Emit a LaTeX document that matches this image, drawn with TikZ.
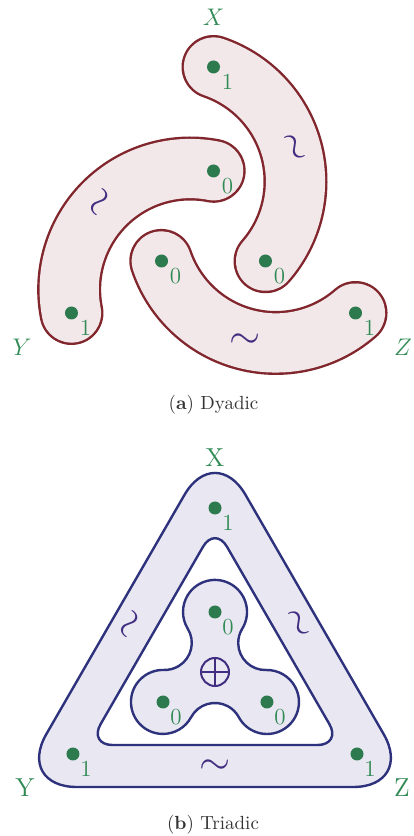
\documentclass[tikz,border=0pt]{standalone}
\usepackage{tikz}
\usetikzlibrary{calc, positioning}
\definecolor{dyadline}{RGB}{128,38,44}
\definecolor{dyadfill}{RGB}{242,232,234}
\definecolor{triline}{RGB}{46,50,124}
\definecolor{trifill}{RGB}{233,232,242}
\definecolor{dotgreen}{RGB}{44,122,78}
\definecolor{labgreen}{RGB}{48,138,84}
\definecolor{tildecol}{RGB}{66,46,128}
\definecolor{capgray}{RGB}{51,51,51}
\tikzset{
  dyadband/.style={draw=dyadline, line width=1.2pt, double=dyadfill, double distance=29.6pt, line cap=round},
  triband/.style={draw=triline, line width=1.2pt, fill=trifill, even odd rule},
  dot/.style={circle, fill=dotgreen, inner sep=0pt, minimum size=6.5pt},
  digit/.style={text=labgreen, font=\fontsize{11.5}{12}\selectfont, inner sep=0pt},
  party/.style={text=labgreen, font=\fontsize{13}{14}\selectfont},
  wiggle/.style={text=tildecol, inner sep=0pt},
  caption/.style={text=capgray, font=\fontsize{9.5}{11}\selectfont}
}
\newcommand{\twiddle}{\scalebox{2}{$\sim$}}
\begin{document}
\begin{tikzpicture}[x=0.5pt, y=0.5pt]
    \useasboundingbox (0,0) rectangle (413,836);

    % --- (a) Dyadic ---
    \begin{scope}[shift={(213.5,605)}]
        \draw[dyadband] (90:164) arc[start angle=71.2, end angle=-41.2, radius=121];
        \draw[dyadband] (210:164) arc[start angle=191.2, end angle=78.8, radius=121];
        \draw[dyadband] (330:164) arc[start angle=311.2, end angle=198.8, radius=121];

        \node[dot] (ax1) at (90:164) {};
        \node[dot] (ay1) at (210:164) {};
        \node[dot] (az1) at (330:164) {};
        \node[dot] (ax0) at (330:60) {};
        \node[dot] (ay0) at (90:60) {};
        \node[dot] (az0) at (210:60) {};
        \node[digit] at ($(ax1)+(14,-15)$) {1};
        \node[digit] at ($(ay1)+(14,-15)$) {1};
        \node[digit] at ($(az1)+(14,-15)$) {1};
        \node[digit] at ($(ax0)+(14,-15)$) {0};
        \node[digit] at ($(ay0)+(14,-15)$) {0};
        \node[digit] at ($(az0)+(14,-15)$) {0};

        % tildes along the bands
        \node[wiggle, rotate=-60] (axw) at (79.5,83) {\twiddle};
        \node[wiggle, rotate=60] (ayw) at (-111.6,27.3) {\twiddle};
        \node[wiggle] (azw) at (32,-110) {\twiddle};

        \node[party] (ax) at (0,214) {$X$};
        \node[party] (ay) at (-191.5,-116) {$Y$};
        \node[party] (az) at (189.5,-116) {$Z$};

        \node[caption] (capa) at (0,-174) {(\textbf{a}) Dyadic};
    \end{scope}

    % --- (b) Triadic ---
    \begin{scope}[shift={(215,164)}]
        \fill[trifill, even odd rule]
            [rounded corners=30.5pt] (90:230) -- (210:230) -- (330:230) -- cycle
            [rounded corners=12pt] (90:146) -- (210:146) -- (330:146) -- cycle;
        \draw[triline, line width=1.2pt, rounded corners=30.5pt] (90:230) -- (210:230) -- (330:230) -- cycle;
        \draw[triline, line width=1.2pt, rounded corners=12pt] (90:146) -- (210:146) -- (330:146) -- cycle;

        % inner trefoil
        \draw[triband] ($(330:60)+(208.3:32)$)
            arc[start angle=208.3, end angle=451.6, radius=32] arc[start angle=271.6, end angle=148.4, radius=27.1]
            arc[start angle=328.3, end angle=571.6, radius=32] arc[start angle=391.6, end angle=268.4, radius=27.1]
            arc[start angle=448.3, end angle=691.6, radius=32] arc[start angle=511.6, end angle=388.4, radius=27.1]
            -- cycle;

        \node[dot] (bx1) at (90:164) {};
        \node[dot] (by1) at (210:164) {};
        \node[dot] (bz1) at (330:164) {};
        \node[dot] (bx0) at (90:60) {};
        \node[dot] (by0) at (210:60) {};
        \node[dot] (bz0) at (330:60) {};
        \node[digit] at ($(bx1)+(13,-15)$) {1};
        \node[digit] at ($(by1)+(13,-15)$) {1};
        \node[digit] at ($(bz1)+(13,-15)$) {1};
        \node[digit] at ($(bx0)+(13,-15)$) {0};
        \node[digit] at ($(by0)+(13,-15)$) {0};
        \node[digit] at ($(bz0)+(13,-15)$) {0};

        % xor in the middle
        \node[circle, draw=tildecol, line width=1pt, minimum size=14pt, inner sep=0pt] (xor) at (0,0) {};
        \draw[tildecol, line width=1pt] (xor.north) -- (xor.south) (xor.west) -- (xor.east);

        \node[wiggle, rotate=60] (byw) at (-83,47) {\twiddle};
        \node[wiggle, rotate=-60] (bzw) at (82,48) {\twiddle};
        \node[wiggle] (bxw) at (0,-95) {\twiddle};

        \node[party] (bx) at (0,214) {X};
        \node[party] (by) at (-190,-116) {Y};
        \node[party] (bz) at (187,-116) {Z};

        \node[caption] (capb) at (-2,-153) {(\textbf{b}) Triadic};
    \end{scope}
\end{tikzpicture}
\end{document}
